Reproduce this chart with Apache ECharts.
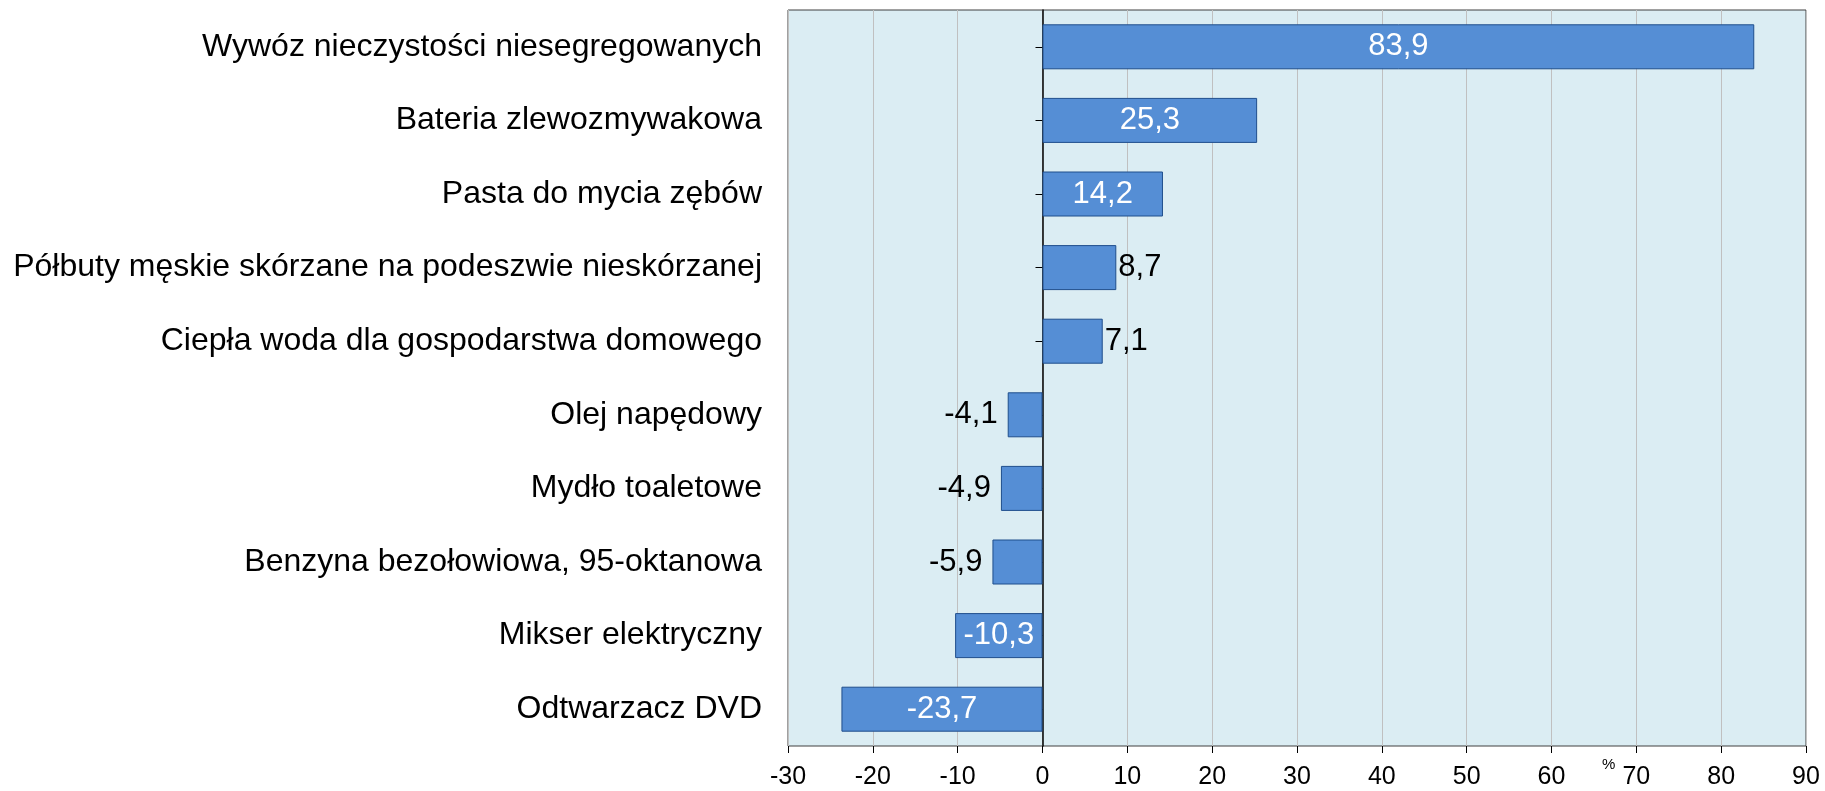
<!DOCTYPE html>
<html>
<head>
<meta charset="utf-8">
<script src="https://cdn.jsdelivr.net/npm/echarts@6/dist/echarts.min.js"></script>
<style>
  html, body { margin: 0; padding: 0; background: #fff; }
  #chart { width: 1825px; height: 791px; }
</style>
</head>
<body>
<div id="chart"></div>
<script>
const categories = [
  'Wywóz nieczystości niesegregowanych',
  'Bateria zlewozmywakowa',
  'Pasta do mycia zębów',
  'Półbuty męskie skórzane na podeszwie nieskórzanej',
  'Ciepła woda dla gospodarstwa domowego',
  'Olej napędowy',
  'Mydło toaletowe',
  'Benzyna bezołowiowa, 95-oktanowa',
  'Mikser elektryczny',
  'Odtwarzacz DVD'
]
const values = [83.9, 25.3, 14.2, 8.7, 7.1, -4.1, -4.9, -5.9, -10.3, -23.7]
const unitLabel = '%'

const font = 'Liberation Sans, Arial, sans-serif'
const fmt = v => String(v).replace('.', ',')

// big bars get a white label inside, small ones a black label next to the end
const barData = values.map(v => {
  const inside = Math.abs(v) > 10
  return {
    value: v,
    label: {
      position: inside ? 'inside' : (v < 0 ? 'left' : 'right'),
      color: inside ? '#ffffff' : '#000000',
      distance: v < 0 ? 10 : 2
    }
  }
})

const chart = echarts.init(document.getElementById('chart'))
const option = {
  animation: false,
  grid: {
    left: 788, right: 19, top: 10, bottom: 45,
    containLabel: false,
    outerBoundsMode: 'none',
    show: true,
    backgroundColor: '#dbedf3',
    borderColor: '#404040',
    borderWidth: 1
  },
  xAxis: {
    type: 'value',
    min: -30, max: 90, interval: 10,
    axisLine: { onZero: false, lineStyle: { color: '#000', width: 1 } },
    axisTick: { show: true, length: 7, lineStyle: { color: '#000' } },
    axisLabel: { fontFamily: font, fontSize: 25, color: '#000', margin: 19 },
    splitLine: { lineStyle: { color: '#c0c0c0', width: 1 } }
  },
  yAxis: [
    {
      type: 'category',
      data: categories,
      inverse: true,
      position: 'left',
      axisLine: { show: false, onZero: false },
      axisTick: { show: false },
      axisLabel: { fontFamily: font, fontSize: 32, color: '#000', margin: 26 }
    },
    {
      // zero line with its little ticks
      type: 'category',
      data: categories,
      inverse: true,
      position: 'left',
      axisLine: { show: true, onZero: true, lineStyle: { color: '#000', width: 1.5 } },
      axisTick: { show: true, alignWithLabel: true, length: 7, lineStyle: { color: '#000' } },
      axisLabel: { show: false }
    }
  ],
  series: [
    {
      type: 'bar',
      data: barData,
      barWidth: 45,
      itemStyle: { color: '#558ed5', borderColor: '#1f4e8c', borderWidth: 1 },
      label: {
        show: true,
        fontFamily: font,
        fontSize: 31,
        formatter: p => fmt(p.value)
      }
    }
  ],
  graphic: [
    {
      type: 'text',
      left: 1602, top: 757,
      style: { text: unitLabel, font: '15px ' + font, fill: '#000' }
    }
  ]
}
chart.setOption(option)
</script>
</body>
</html>
